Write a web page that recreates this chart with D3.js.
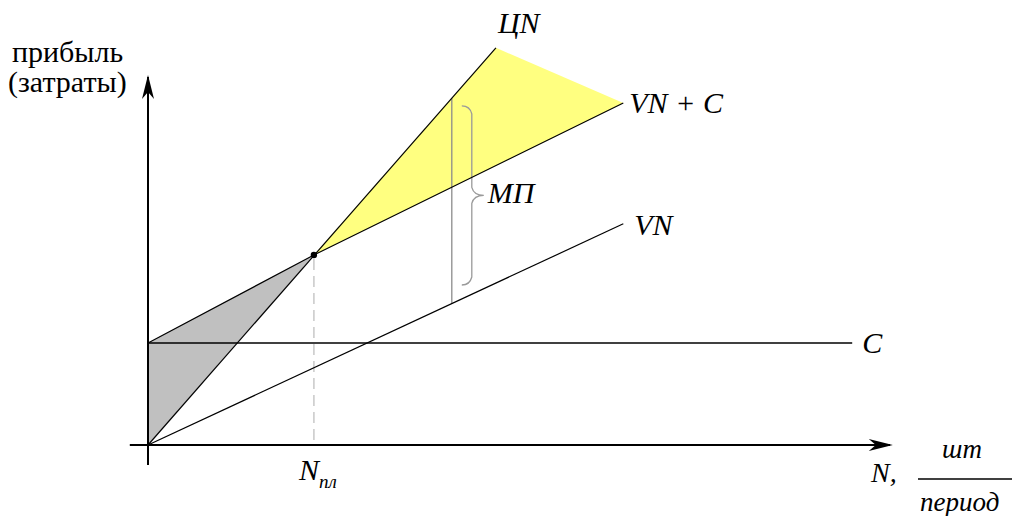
<!DOCTYPE html>
<html lang="ru">
<head>
<meta charset="utf-8">
<script src="https://d3js.org/d3.v7.min.js"></script>
<style>
  body { margin: 0; background: #fff; }
</style>
</head>
<body>
<div id="my_dataviz"></div>
<script>
// break-even chart: N (units per period) vs profit / costs, arbitrary units 0..100
var revenueLine   = [[0, 0], [49.7, 99.3]];              // ЦN
var totalCostLine = [[0, 25.5], [23.7, 47.5], [67.9, 85.5]]; // VN + C
var variableLine  = [[0, 0], [67.9, 55.3]];              // VN
var fixedLine     = [[0, 25.5], [100.6, 25.5]];          // C
var breakEven     = [23.7, 47.5];                        // N пл
var marginN       = 43.4;                                // where МП is measured
var marginRange   = [35.3, 86.7];                        // VN .. ЦN at marginN
var braceRange    = [40, 84.8];
var lineLabels    = ["ЦN", "VN + C", "VN", "C", "МП"];
var yLabel        = ["прибыль", "(затраты)"];
var xUnitTop      = "шт";
var xUnitBottom   = "период";

var width = 1012, height = 516;
var serif = "'Liberation Serif', 'DejaVu Serif', serif";

var svg = d3.select("#my_dataviz")
  .append("svg")
  .attr("width", width)
  .attr("height", height)
  .attr("font-family", serif)
  .style("font-family", serif);

var x = d3.scaleLinear().domain([0, 100]).range([148, 848]);
var y = d3.scaleLinear().domain([0, 100]).range([445, 45]);

var line = d3.line()
  .x(function(d) { return x(d[0]); })
  .y(function(d) { return y(d[1]); });

// loss area (grey) and profit area (yellow)
svg.append("path")
  .attr("d", line([totalCostLine[0], breakEven, revenueLine[0]]) + "Z")
  .style("fill", "#c0c0c0");

svg.append("path")
  .attr("d", line([breakEven, revenueLine[1], totalCostLine[2]]) + "Z")
  .style("fill", "#ffff80");

// dashed drop line to N пл
svg.append("line")
  .attr("x1", x(breakEven[0])).attr("x2", x(breakEven[0]))
  .attr("y1", y(breakEven[1]) + 4).attr("y2", y(0))
  .attr("stroke", "#c8c8c8")
  .attr("stroke-width", 1.5)
  .attr("stroke-dasharray", "11,6");

// МП measure line
svg.append("line")
  .attr("x1", x(marginN)).attr("x2", x(marginN))
  .attr("y1", y(marginRange[1])).attr("y2", y(marginRange[0]))
  .attr("stroke", "#8c8c8c")
  .attr("stroke-width", 1.3);

// curly brace
var bx = x(marginN) + 10, by0 = y(braceRange[1]), by1 = y(braceRange[0]);
var bm = (by0 + by1) / 2;
svg.append("path")
  .attr("d", "M" + bx + "," + by0 +
    " q8,0 10,8 L" + (bx + 10) + "," + (bm - 8) +
    " q2,8 12,8 q-10,0 -12,8 L" + (bx + 10) + "," + (by1 - 8) +
    " q-2,8 -10,8")
  .attr("fill", "none")
  .attr("stroke", "#9a9a9a")
  .attr("stroke-width", 1.3);

// the four lines
[revenueLine, totalCostLine, variableLine].forEach(function(l) {
  svg.append("path")
    .attr("d", line(l))
    .attr("fill", "none")
    .attr("stroke", "#000")
    .attr("stroke-width", 1.2);
});
svg.append("path")
  .attr("d", line(fixedLine))
  .attr("fill", "none")
  .attr("stroke", "#000")
  .attr("stroke-width", 1.6);

// axes with arrows
svg.append("line")
  .attr("x1", x(-2.6)).attr("x2", x(106)).attr("y1", y(0)).attr("y2", y(0))
  .attr("stroke", "#000").attr("stroke-width", 2);
svg.append("line")
  .attr("x1", x(0)).attr("x2", x(0)).attr("y1", y(-5)).attr("y2", y(92))
  .attr("stroke", "#000").attr("stroke-width", 2);

var ax = x(106.4), ay = y(0);
svg.append("path")
  .attr("d", "M" + ax + "," + ay + " l-24,-6 l7,6 l-7,6 Z")
  .style("fill", "#000");
var tx = x(0), ty = y(92.5);
svg.append("path")
  .attr("d", "M" + tx + "," + ty + " l-6,24 l6,-7 l6,7 Z")
  .style("fill", "#000");

svg.append("circle")
  .attr("cx", x(breakEven[0])).attr("cy", y(breakEven[1]))
  .attr("r", 3.2).style("fill", "#000");

// line labels
function label(txt, px, py, size) {
  return svg.append("text")
    .attr("x", px).attr("y", py)
    .attr("font-family", serif)
    .attr("font-size", size + "px")
    .attr("font-style", "italic")
    .text(txt);
}
label(lineLabels[0], x(revenueLine[1][0]) + 2, 33, 30);
label(lineLabels[1], x(totalCostLine[2][0]) + 6, y(totalCostLine[2][1]) + 10, 30);
label(lineLabels[2], x(variableLine[1][0]) + 11, y(variableLine[1][1]) + 11, 30);
label(lineLabels[3], x(fixedLine[1][0]) + 10, y(fixedLine[1][1]) + 10, 30);
label(lineLabels[4], bx + 26, bm + 8, 30);

// N пл under the axis
var nt = label("N", x(breakEven[0]) - 15, 480, 30);
nt.append("tspan").attr("font-size", "19px").attr("dy", 8).text("пл");

// x axis caption with unit fraction
label("N,", 871, 482, 28);
label(xUnitTop, 962, 458, 27).attr("text-anchor", "middle");
svg.append("line")
  .attr("x1", 918).attr("x2", 1012).attr("y1", 479).attr("y2", 479)
  .attr("stroke", "#000").attr("stroke-width", 1.5);
label(xUnitBottom, 920, 511, 27);

// y axis caption
label(yLabel[0], 12, 62, 30).attr("font-style", null);
label(yLabel[1], 8, 92, 30).attr("font-style", null);
</script>
</body>
</html>
